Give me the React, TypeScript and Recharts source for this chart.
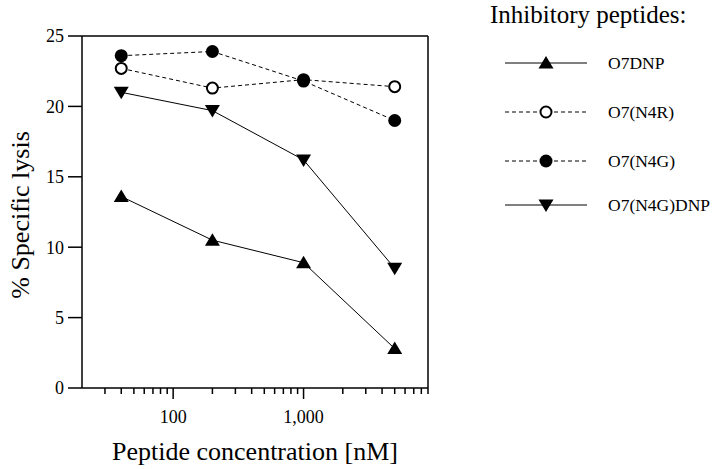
import {
  LineChart,
  Line,
  XAxis,
  YAxis,
  Legend,
  ReferenceLine,
} from 'recharts';

// Peptide concentration (nM) and % specific lysis
const concentrations = [40, 200, 1000, 5000];
const o7dnp = [13.6, 10.5, 8.9, 2.8];
const o7n4r = [22.7, 21.3, 21.9, 21.4];
const o7n4g = [23.6, 23.9, 21.8, 19.0];
const o7n4gdnp = [21.0, 19.7, 16.2, 8.5];

const yTicks = [0, 5, 10, 15, 20, 25];
const majorTicks = [100, 1000];
const minorTicks = [
  30, 40, 50, 60, 70, 80, 90,
  200, 300, 400, 500, 600, 700, 800, 900,
  2000, 3000, 4000, 5000, 6000, 7000, 8000, 9000,
];
const legendTitle = 'Inhibitory peptides:';

const data = concentrations.map((c, i) => ({
  conc: c,
  o7dnp: o7dnp[i],
  o7n4r: o7n4r[i],
  o7n4g: o7n4g[i],
  o7n4gdnp: o7n4gdnp[i],
}));

const FONT = "'Liberation Serif', 'DejaVu Serif', serif";

type Shape = 'up' | 'down' | 'open' | 'filled';

const series: { key: string; name: string; shape: Shape; dashed: boolean }[] = [
  { key: 'o7dnp', name: 'O7DNP', shape: 'up', dashed: false },
  { key: 'o7n4r', name: 'O7(N4R)', shape: 'open', dashed: true },
  { key: 'o7n4g', name: 'O7(N4G)', shape: 'filled', dashed: true },
  { key: 'o7n4gdnp', name: 'O7(N4G)DNP', shape: 'down', dashed: false },
];

function Marker({ cx, cy, shape }: { cx: number; cy: number; shape: Shape }) {
  if (shape === 'up') {
    return <path d={`M${cx},${cy - 7} L${cx + 7.5},${cy + 5.5} L${cx - 7.5},${cy + 5.5} Z`} fill="#000" />;
  }
  if (shape === 'down') {
    return <path d={`M${cx},${cy + 7} L${cx + 7.5},${cy - 5.5} L${cx - 7.5},${cy - 5.5} Z`} fill="#000" />;
  }
  if (shape === 'open') {
    return <circle cx={cx} cy={cy} r={5.5} fill="#fff" stroke="#000" strokeWidth={2} />;
  }
  return <circle cx={cx} cy={cy} r={6.5} fill="#000" />;
}

function XTick(props: any) {
  const { x, y, payload } = props;
  const major = majorTicks.includes(payload.value);
  return (
    <g>
      <line x1={x} y1={y} x2={x} y2={y + (major ? 11 : 6)} stroke="#000" strokeWidth={1.5} />
      {major && (
        <text x={x} y={y + 35} textAnchor="middle" fontSize={18} style={{ fontFamily: FONT }} fill="#000">
          {payload.value.toLocaleString('en-US')}
        </text>
      )}
    </g>
  );
}

function LegendBox() {
  const rows = [63, 112, 161, 205];
  return (
    <svg width={240} height={230} style={{ fontFamily: FONT }}>
      <text x={10} y={23} fontSize={25} fill="#000">
        {legendTitle}
      </text>
      {series.map((s, i) => (
        <g key={s.key}>
          <line
            x1={25}
            x2={107}
            y1={rows[i]}
            y2={rows[i]}
            stroke="#000"
            strokeWidth={1}
            strokeDasharray={s.dashed ? '4 3' : undefined}
          />
          <Marker cx={66} cy={rows[i]} shape={s.shape} />
          <text x={128} y={rows[i] + 6} fontSize={17.5} fill="#000">
            {s.name}
          </text>
        </g>
      ))}
    </svg>
  );
}

export default function App() {
  return (
    <div style={{ position: 'absolute', left: 0, top: 0, background: '#fff', fontFamily: FONT }}>
      <LineChart
        width={720}
        height={469}
        data={data}
        margin={{ top: 36, right: 292, bottom: 0, left: 0 }}
        style={{ fontFamily: FONT }}
      >
        <XAxis
          dataKey="conc"
          type="number"
          scale="log"
          domain={[20, 9000]}
          allowDataOverflow
          ticks={[...minorTicks, ...majorTicks].sort((a, b) => a - b)}
          interval={0}
          tickLine={false}
          tickSize={0}
          tickMargin={0}
          tick={<XTick />}
          height={81}
          axisLine={{ stroke: '#000', strokeWidth: 1.5 }}
          label={{
            content: () => (
              <text x={255} y={460} textAnchor="middle" fontSize={26} style={{ fontFamily: FONT }} fill="#000">
                Peptide concentration [nM]
              </text>
            ),
          }}
        />
        <YAxis
          type="number"
          domain={[0, 25]}
          ticks={yTicks}
          interval={0}
          width={82}
          tickSize={14}
          tickMargin={4}
          tickLine={{ stroke: '#000', strokeWidth: 1.5 }}
          axisLine={{ stroke: '#000', strokeWidth: 1.5 }}
          tick={{ fill: '#000', fontSize: 18, style: { fontFamily: FONT } }}
          label={{
            content: () => (
              <text
                x={29}
                y={215}
                transform="rotate(-90, 29, 215)"
                textAnchor="middle"
                fontSize={26}
                style={{ fontFamily: FONT }}
                fill="#000"
              >
                % Specific lysis
              </text>
            ),
          }}
        />
        <ReferenceLine y={25} stroke="#000" strokeWidth={1.5} />
        <ReferenceLine x={9000} stroke="#000" strokeWidth={1.5} />
        <Legend
          layout="horizontal"
          verticalAlign="middle"
          align="center"
          wrapperStyle={{ position: 'absolute', left: 480, top: 0, width: 240, height: 230 }}
          content={() => <LegendBox />}
        />
        {series.map((s) => (
          <Line
            key={s.key}
            dataKey={s.key}
            name={s.name}
            stroke="#000"
            strokeWidth={1}
            strokeDasharray={s.dashed ? '4 3' : undefined}
            isAnimationActive={false}
            dot={(p: any) => <Marker key={`${s.key}-${p.index}`} cx={p.cx} cy={p.cy} shape={s.shape} />}
            activeDot={false}
          />
        ))}
      </LineChart>
    </div>
  );
}
